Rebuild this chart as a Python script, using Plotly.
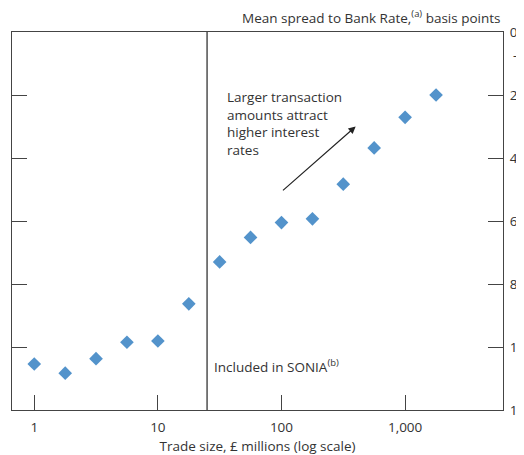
import plotly.graph_objects as go

trade_size = [1, 1.78, 3.16, 5.62, 10, 17.8, 31.6, 56.2, 100, 178, 316, 562, 1000, 1780]
spread = [-10.54, -10.83, -10.37, -9.85, -9.81, -8.63, -7.30, -6.52, -6.05, -5.93, -4.83, -3.68, -2.71, -2.0]
y_tickvals = [0, -2, -4, -6, -8, -10, -12]
y_ticktext = ["0", "2", "4", "6", "8", "10", "12"]
x_tickvals = [1, 10, 100, 1000]
x_ticktext = ["1", "10", "100", "1,000"]
sonia_threshold = 25

FONT = "Open Sans"
FS = 13.5
TXT = "#333333"
AX = "#444444"

fig = go.Figure()
fig.add_trace(go.Scatter(
    x=trade_size, y=spread, mode="markers",
    marker=dict(symbol="diamond", size=10.5, color="#5393CB", line=dict(width=0)),
    showlegend=False, hoverinfo="x+y"))

fig.add_shape(type="line", xref="x", yref="paper", x0=sonia_threshold, x1=sonia_threshold,
              y0=0, y1=1, line=dict(color="#222222", width=1.2))

# note: annotation x on a log axis is given in log10 units
fig.add_annotation(x=2.6, y=-3.0, ax=2.0, ay=-5.07, xref="x", yref="y", axref="x", ayref="y",
                   text="", showarrow=True, arrowhead=2, arrowsize=1.2, arrowwidth=1.2,
                   arrowcolor="#222222")
fig.add_annotation(x=1.54, y=-1.72, xref="x", yref="y", xanchor="left", yanchor="top",
                   text="Larger transaction<br>amounts attract<br>higher interest<br>rates",
                   showarrow=False, align="left", font=dict(family=FONT, size=FS, color=TXT))
fig.add_annotation(x=1.44, y=-10.6, xref="x", yref="y", xanchor="left", yanchor="middle",
                   text="Included in SONIA<sup>(b)</sup>", showarrow=False,
                   font=dict(family=FONT, size=FS, color=TXT))
fig.add_annotation(x=1, y=1, xref="paper", yref="paper", xanchor="right", yanchor="bottom",
                   yshift=3, text="Mean spread to Bank Rate,<sup>(a)</sup> basis points",
                   showarrow=False, font=dict(family=FONT, size=FS, color=TXT))
fig.add_annotation(x=1, y=-0.73, xref="paper", yref="y", xanchor="left", yanchor="middle",
                   xshift=8, text="\u2014", showarrow=False,
                   font=dict(family=FONT, size=13, color=TXT))

fig.update_xaxes(type="log", range=[-0.18, 3.792], tickvals=x_tickvals, ticktext=x_ticktext,
                 ticks="inside", ticklen=15, tickwidth=1.2, tickcolor=AX,
                 showline=True, linecolor=AX, linewidth=1.2, mirror=True,
                 showgrid=False, zeroline=False, automargin=False, ticklabelstandoff=5,
                 tickfont=dict(family=FONT, size=FS, color=TXT),
                 title=dict(text="Trade size, £ millions (log scale)", standoff=12,
                            font=dict(family=FONT, size=FS, color=TXT)))
fig.update_yaxes(range=[-12, 0], tickvals=y_tickvals, ticktext=y_ticktext, side="right",
                 ticks="inside", ticklen=15, tickwidth=1.2, tickcolor=AX,
                 showline=True, linecolor=AX, linewidth=1.2, mirror="ticks",
                 showgrid=False, zeroline=False, automargin=False, ticklabelstandoff=3,
                 tickfont=dict(family=FONT, size=FS, color=TXT))

# the page body adds an 8px offset, so the figure is sized to the remaining window
fig.update_layout(width=516, height=447, margin=dict(l=4, r=21, t=24, b=45),
                  plot_bgcolor="white", paper_bgcolor="white",
                  font=dict(family=FONT, size=FS, color=TXT))

fig.write_html("out.html")
